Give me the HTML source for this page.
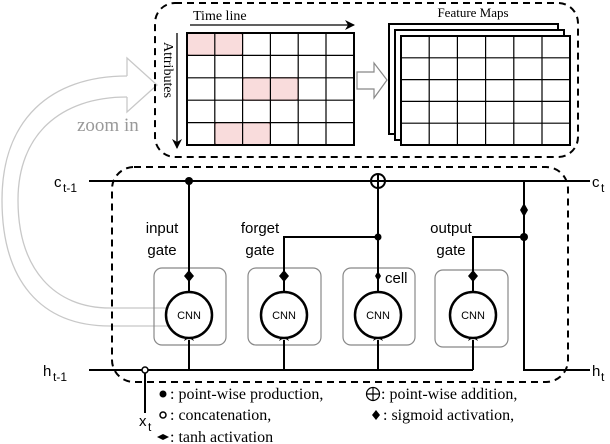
<!DOCTYPE html>
<html><head><style>body{margin:0;background:#fff}svg{display:block}</style></head><body>
<svg width="610" height="444" xmlns="http://www.w3.org/2000/svg">
<defs>
<marker id="ah" markerWidth="10" markerHeight="10" refX="9" refY="5" orient="auto" markerUnits="userSpaceOnUse"><path d="M0,0 L10,5 L0,10 L3,5 z" fill="#000"/></marker>
</defs>
<!-- zoom-in curved arrow -->
<g fill="none" stroke="#c8c8c8" stroke-width="1.3">
<path d="M168,326 L110,326 C40,326 2,280 2,200 C2,120 50,76 127,76"/>
<path d="M168,308 L110,308 C55,308 18,270 18,200 C18,135 60,97 127,97"/>
<path d="M127,76 L127,58 L157,85 L127,112 L127,97"/>
</g>
<text x="77" y="131" font-family="Liberation Serif, serif" font-size="19" fill="#999">zoom in</text>
<!-- top dashed box -->
<rect x="155" y="3" width="423" height="154" rx="20" fill="none" stroke="#000" stroke-width="2" stroke-dasharray="7,5"/>
<text x="193" y="20" font-family="Liberation Serif, serif" font-size="14">Time line</text>
<line x1="190" y1="25" x2="354" y2="25" stroke="#000" stroke-width="1.3" marker-end="url(#ah)"/>
<line x1="177" y1="33" x2="177" y2="148" stroke="#000" stroke-width="1.3" marker-end="url(#ah)"/>
<text transform="translate(164,42) rotate(90)" font-family="Liberation Serif, serif" font-size="14">Attributes</text>
<!-- grid -->
<g fill="#f9dcdc" stroke="#c88" stroke-width="1">
<rect x="187" y="33" width="55.6" height="22.4" rx="3"/>
<rect x="242.6" y="77.8" width="55.6" height="22.4" rx="3"/>
<rect x="214.8" y="122.6" width="55.6" height="22.4" rx="3"/>
</g>
<g stroke="#000" stroke-width="1.2" fill="none">
<rect x="187" y="33" width="167" height="112" stroke-width="2"/>
<path d="M214.8,33V145M242.6,33V145M270.4,33V145M298.2,33V145M326,33V145M187,55.4H354M187,77.8H354M187,100.2H354M187,122.6H354"/>
</g>
<!-- hollow arrow -->
<path d="M357,72 L374,72 L374,63 L387,80 L374,98 L374,89 L357,89 z" fill="#fff" stroke="#888" stroke-width="1.2"/>
<text x="473" y="17" text-anchor="middle" font-family="Liberation Serif, serif" font-size="13">Feature Maps</text>
<g stroke="#000" stroke-width="2" fill="#fff">
<rect x="389" y="24" width="169" height="110"/>
<rect x="395" y="30" width="169" height="110"/>
<rect x="401" y="36" width="169" height="109"/>
</g>
<path d="M429.2,36V145M457.4,36V145M485.6,36V145M513.8,36V145M542,36V145M401,57.8H570M401,79.6H570M401,101.4H570M401,123.2H570" stroke="#000" stroke-width="1.2"/>
<!-- bottom dashed box -->
<rect x="112" y="167" width="456" height="215" rx="22" fill="none" stroke="#000" stroke-width="2" stroke-dasharray="7,5"/>
<!-- boxes -->
<g fill="none" stroke="#888" stroke-width="1.2">
<rect x="154" y="268" width="72" height="77" rx="8"/>
<rect x="248" y="268" width="73" height="77" rx="8"/>
<rect x="343" y="268" width="72" height="77" rx="8"/>
<rect x="435" y="270" width="73" height="77" rx="8"/>
</g>
<!-- main lines -->
<g stroke="#000" stroke-width="2" fill="none">
<line x1="89" y1="181" x2="590" y2="181"/>
<line x1="89" y1="370" x2="473" y2="370"/>
<path d="M524,181 V370 H590"/>
<line x1="189" y1="181" x2="189" y2="292"/>
<path d="M378,188 V292 M284,292 V237 H378"/>
<path d="M473,292 V237 H524"/>
<path d="M189,370 V340 M284,370 V340 M378,370 V340 M473,370 V340"/>
<line x1="145" y1="370" x2="145" y2="413"/>
</g>
<g fill="#000">
<path d="M189,331 l-5,10 l5,-3 l5,3z M284,331 l-5,10 l5,-3 l5,3z M378,331 l-5,10 l5,-3 l5,3z M473,331 l-5,10 l5,-3 l5,3z"/>
<circle cx="189" cy="181" r="4"/><circle cx="378" cy="237" r="3.5"/><circle cx="524" cy="237" r="4"/>
<path d="M189,270 l5,6 l-5,6 l-5,-6z M284,270 l5,6 l-5,6 l-5,-6z M473,270 l5,6 l-5,6 l-5,-6z M524,203 l4,7 l-4,7 l-4,-7z M378,271 l3,5 l-3,5 l-3,-5z"/>
</g>
<circle cx="378" cy="181" r="7" fill="#fff" stroke="#000" stroke-width="2"/>
<path d="M371,181H385M378,174V188" stroke="#000" stroke-width="2"/>
<circle cx="145" cy="370" r="3" fill="#fff" stroke="#000" stroke-width="1.5"/>
<g fill="#fff" stroke="#000" stroke-width="2.5">
<circle cx="189" cy="315" r="23"/><circle cx="284" cy="315" r="23"/><circle cx="378" cy="315" r="23"/><circle cx="473" cy="315" r="23"/>
</g>
<g font-family="Liberation Sans, sans-serif" font-size="11" text-anchor="middle">
<text x="189" y="319">CNN</text><text x="284" y="319">CNN</text><text x="378" y="319">CNN</text><text x="473" y="319">CNN</text>
</g>
<g font-family="Liberation Sans, sans-serif" font-size="15" text-anchor="middle">
<text x="162" y="233">input</text><text x="162" y="255">gate</text>
<text x="260" y="233">forget</text><text x="260" y="255">gate</text>
<text x="451" y="233">output</text><text x="451" y="255">gate</text>
</g>
<g font-family="Liberation Sans, sans-serif" font-size="15">
<text x="385" y="283">cell</text>
<text x="54" y="187">c</text><text x="63" y="192" font-size="12">t-1</text>
<text x="592" y="187">c</text><text x="601" y="192" font-size="12">t</text>
<text x="43" y="376">h</text><text x="53" y="381" font-size="12">t-1</text>
<text x="592" y="376">h</text><text x="601" y="381" font-size="12">t</text>
<text x="139" y="426">x</text><text x="148" y="431" font-size="12">t</text>
</g>
<!-- legend -->
<g font-family="Liberation Serif, serif" font-size="16">
<circle cx="163" cy="394" r="3.5"/>
<text x="170" y="399">: point-wise production,</text>
<circle cx="163" cy="415" r="3" fill="#fff" stroke="#000" stroke-width="1.5"/>
<text x="170" y="420">: concatenation,</text>
<path d="M157,437 l6,-3 l6,3 l-6,3z"/>
<text x="170" y="442">: tanh activation</text>
<circle cx="373" cy="394" r="6.5" fill="none" stroke="#000" stroke-width="1.2"/>
<path d="M366.5,394H379.5M373,387.5V400.5" stroke="#000" stroke-width="1.2"/>
<text x="381" y="399">: point-wise addition,</text>
<path d="M376,410 l4,5 l-4,5 l-4,-5z"/>
<text x="383" y="420">: sigmoid activation,</text>
</g>
</svg>
</body></html>
